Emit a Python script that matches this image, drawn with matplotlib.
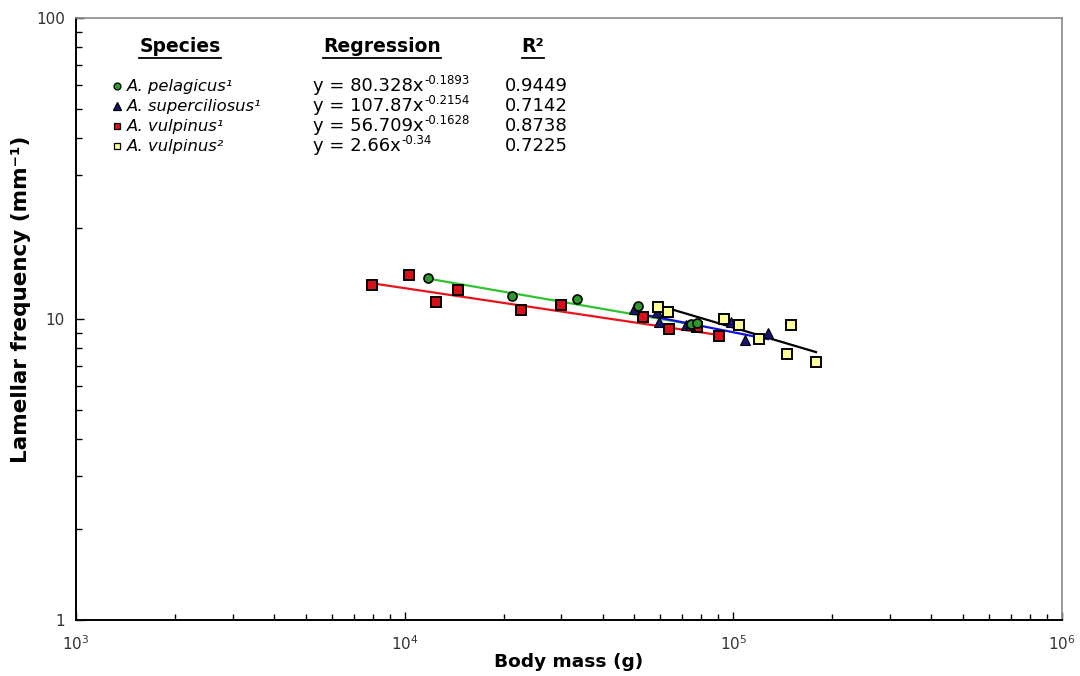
import numpy as np
import matplotlib
matplotlib.use("Agg")
import matplotlib.pyplot as plt
from matplotlib.ticker import FixedLocator, FuncFormatter, LogLocator, NullFormatter
from matplotlib.lines import Line2D

# ---- data ----
pel_mass = [11775, 21210, 33440, 51260, 74500, 77500]
pel_freq = [13.68, 11.92, 11.65, 11.05, 9.65, 9.70]

sup_mass = [49840, 58560, 59390, 71760, 73800, 98330, 108500, 127500]
sup_freq = [10.80, 10.55, 9.77, 9.55, 9.55, 9.77, 8.52, 8.98]

vul1_mass = [7953, 10306, 12453, 14527, 22584, 29894, 53088, 63700, 77500, 90400]
vul1_freq = [12.97, 14.0, 11.39, 12.49, 10.71, 11.13, 10.15, 9.26, 9.41, 8.78]

vul2_mass = [58970, 63240, 93630, 104000, 119650, 149700, 145600, 178400]
vul2_freq = [10.96, 10.55, 10.0, 9.55, 8.58, 9.55, 7.65, 7.20]

# regression coefficients printed on the chart
species = ["A. pelagicus\u00b9", "A. superciliosus\u00b9", "A. vulpinus\u00b9", "A. vulpinus\u00b2"]
reg_a = [80.328, 107.87, 56.709, 2.66]
reg_b = [-0.1893, -0.2154, -0.1628, -0.34]
reg_text = ["80.328", "107.87", "56.709", "2.66"]
reg_exp = ["-0.1893", "-0.2154", "-0.1628", "-0.34"]
r2 = ["0.9449", "0.7142", "0.8738", "0.7225"]

fig = plt.figure(figsize=(10.8, 6.76), dpi=100)
ax = fig.add_axes([76/1080, 56/676, (1062-76)/1080, (620-18)/676])
ax.set_xscale("log")
ax.set_yscale("log")
ax.set_xlim(1e3, 1e6)
ax.set_ylim(1, 100)

def fit_line(x, a, b):
    xs = np.array([min(x), max(x)], dtype=float)
    return xs, a * xs ** b

def fit_loglog(x, y):
    lx, ly = np.log10(x), np.log10(y)
    b, c = np.polyfit(lx, ly, 1)
    xs = np.array([min(x), max(x)], dtype=float)
    return xs, 10 ** c * xs ** b

# regression lines
xs, ys = fit_line(vul1_mass, reg_a[2], reg_b[2])
ax.plot(xs, ys, color="#e8141b", lw=1.6, zorder=2)
xs, ys = fit_line(pel_mass, reg_a[0], reg_b[0])
ax.plot(xs, ys, color="#2fc42f", lw=1.6, zorder=2)
xs, ys = fit_line(sup_mass, reg_a[1], reg_b[1])
ax.plot(xs, ys, color="#1010e0", lw=1.6, zorder=2)
xs, ys = fit_loglog(vul2_mass, vul2_freq)
ax.plot(xs, ys, color="black", lw=1.6, zorder=2)

# markers
ax.plot(vul1_mass, vul1_freq, ls="none", marker="s", ms=6.5, mfc="#d9101a", mec="black", mew=1.4, zorder=3)
ax.plot(sup_mass, sup_freq, ls="none", marker="^", ms=7.5, mfc="#161670", mec="black", mew=0.8, zorder=3)
ax.plot(pel_mass, pel_freq, ls="none", marker="o", ms=6.5, mfc="#2b9a2b", mec="black", mew=1.2, zorder=3)
ax.plot(vul2_mass, vul2_freq, ls="none", marker="s", ms=6.5, mfc="#ffff99", mec="black", mew=1.4, zorder=3)

# axes styling
for s in ["left", "bottom"]:
    ax.spines[s].set_color("black")
    ax.spines[s].set_linewidth(1.4)
for s in ["top", "right"]:
    ax.spines[s].set_color("#8a8a8a")
    ax.spines[s].set_linewidth(1.2)

ax.tick_params(which="both", direction="in", top=False, right=False, color="black")
ax.tick_params(which="major", length=6, width=1, labelsize=11, pad=8)
ax.tick_params(which="minor", length=4, width=1)
ax.yaxis.set_major_locator(FixedLocator([1, 10, 100]))
ax.yaxis.set_major_formatter(FuncFormatter(lambda v, p: "%d" % round(v)))
ax.yaxis.set_minor_locator(LogLocator(base=10, subs=np.arange(2, 10)))
ax.yaxis.set_minor_formatter(NullFormatter())
ax.xaxis.set_major_locator(FixedLocator([1e3, 1e4, 1e5, 1e6]))
ax.xaxis.set_major_formatter(FuncFormatter(lambda v, p: r"$\mathregular{10^{%d}}$" % round(np.log10(v))))
ax.xaxis.set_minor_locator(LogLocator(base=10, subs=np.arange(2, 10)))
ax.xaxis.set_minor_formatter(NullFormatter())
ax.tick_params(axis="x", which="major", pad=10)

for lab in ax.get_xticklabels() + ax.get_yticklabels():
    lab.set_color("#333333")

ax.set_xlabel("Body mass (g)", fontsize=13.3, fontweight="bold", labelpad=0)
ax.set_ylabel("Lamellar frequency (mm\u207b\u00b9)", fontsize=15.5, fontweight="bold")
ax.yaxis.set_label_coords(-0.046, 0.532)

# ---- in-plot legend table ----
def fx(px):
    return px / 1080
def fy(py):
    return 1 - py / 676

hfs = 13.5
sfs = 11.8
rfs = 13
headers = [("Species", 180), ("Regression", 382), ("R\u00b2", 533)]
htexts = []
for t, x in headers:
    htexts.append(fig.text(fx(x), fy(47), t, ha="center", va="center", fontsize=hfs, fontweight="bold"))

rows_y = [86, 106, 126, 146]
mk = [("o", "#2b9a2b", 5), ("^", "#161670", 6), ("s", "#d9101a", 5), ("s", "#ffff99", 5)]
base_texts = []
for i, yy in enumerate(rows_y):
    m, c, ms = mk[i]
    fig.add_artist(Line2D([fx(117)], [fy(yy)], marker=m, ms=ms, mfc=c, mec="black", mew=0.9, ls="none",
                          transform=fig.transFigure))
    fig.text(fx(127), fy(yy), species[i], ha="left", va="center", fontsize=sfs, style="italic")
    bt = fig.text(fx(313), fy(yy), "y = %sx" % reg_text[i], ha="left", va="center", fontsize=rfs)
    base_texts.append(bt)
    fig.text(fx(505), fy(yy), r2[i], ha="left", va="center", fontsize=rfs)

# underline headers and place exponents
fig.canvas.draw()
r = fig.canvas.get_renderer()
inv = fig.transFigure.inverted()
for t in htexts:
    bb = t.get_window_extent(r)
    (x0, y0), (x1, y1) = inv.transform([[bb.x0, bb.y0], [bb.x1, bb.y1]])
    fig.add_artist(Line2D([x0, x1], [y0 - 0.002, y0 - 0.002], color="black", lw=1.3, transform=fig.transFigure))

for i, bt in enumerate(base_texts):
    bb = bt.get_window_extent(r)
    x1, ytop = inv.transform([bb.x1, bb.y1])
    fig.text(x1 + 0.0005, ytop + 0.004, reg_exp[i], ha="left", va="top", fontsize=8.5)

fig.savefig("out.png", dpi=100)
